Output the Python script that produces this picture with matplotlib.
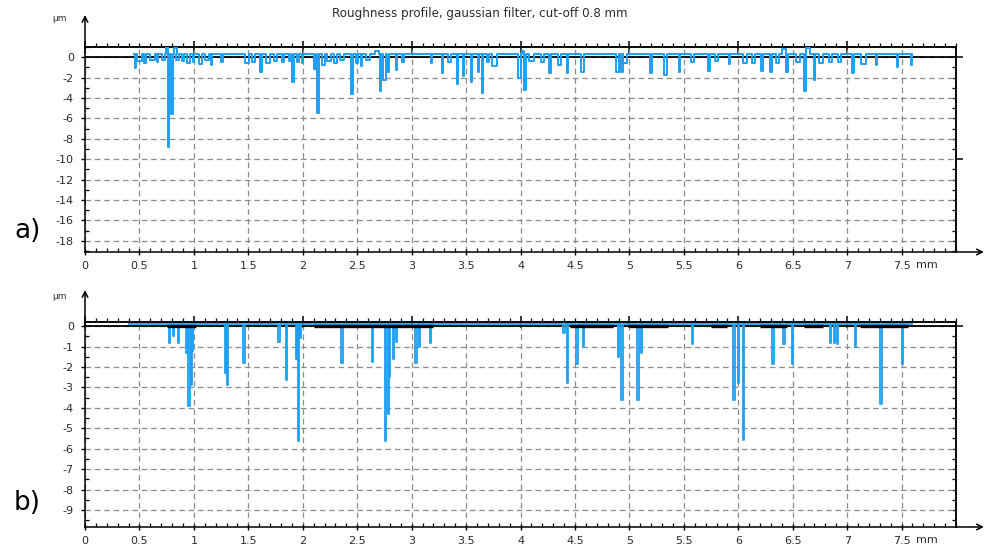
import matplotlib
matplotlib.use("Agg")
import matplotlib.pyplot as plt
from matplotlib.ticker import MultipleLocator, FixedLocator

plt.rcParams["font.family"] = ["DejaVu Sans"]
plt.rcParams["axes.unicode_minus"] = False

# --- profile a): gaussian filtered roughness, pits (negative) and bumps (positive) in µm
a_start, a_end, a_base = 0.45, 7.60, 0.3
a_x = [0.46, 0.50, 0.55, 0.62, 0.67, 0.72, 0.75, 0.77, 0.80, 0.83, 0.85, 0.90, 0.95,
       1.00, 1.06, 1.12, 1.16, 1.26, 1.49, 1.55, 1.62, 1.68, 1.75, 1.82, 1.88, 1.91,
       1.96, 2.00, 2.11, 2.14, 2.19, 2.24, 2.30, 2.36, 2.45, 2.50, 2.54, 2.60, 2.68,
       2.71, 2.75, 2.78, 2.86, 2.92, 3.18, 3.28, 3.35, 3.42, 3.48, 3.55, 3.61, 3.65,
       3.70, 3.76, 3.99, 4.02, 4.04, 4.10, 4.20, 4.27, 4.36, 4.43, 4.57, 4.89, 4.93,
       4.96, 5.20, 5.33, 5.46, 5.58, 5.73, 5.80, 5.92, 6.06, 6.14, 6.22, 6.30, 6.36,
       6.42, 6.45, 6.55, 6.61, 6.64, 6.70, 6.76, 6.85, 6.93, 7.05, 7.15, 7.27, 7.46, 7.59]
a_level = [-1.1, -0.4, -0.6, -0.3, -0.5, -0.3, 1.0, -8.8, -5.6, 0.9, -0.3, -0.4, -0.6,
           -0.5, -0.7, -0.3, -0.8, -0.5, -0.6, -0.5, -1.5, -0.6, -0.4, -0.5, -0.4, -2.4,
           -0.5, -0.6, -1.2, -5.5, -0.8, -0.4, -0.6, -0.3, -3.6, -0.6, -0.9, -0.3, 0.6,
           -3.3, -2.2, -1.5, -1.3, -0.5, -0.6, -1.6, -0.5, -2.6, -1.8, -2.4, -1.5, -3.5,
           -0.5, -0.9, -2.0, 0.6, -3.2, -0.4, -0.5, -1.6, -0.8, -1.6, -1.5, -1.5, -1.5,
           -0.6, -1.6, -1.7, -1.5, -0.5, -1.4, -0.4, -0.7, -0.6, -0.6, -1.4, -1.5, -0.6,
           0.8, -1.5, -0.5, -3.3, 0.9, -2.2, -0.6, -0.5, -0.5, -1.6, -0.7, -0.8, -1.0, -0.8]
a_width = [0.01, 0.04, 0.02, 0.04, 0.01, 0.03, 0.02, 0.012, 0.012, 0.03, 0.02, 0.02, 0.03,
           0.01, 0.02, 0.03, 0.01, 0.02, 0.04, 0.03, 0.02, 0.03, 0.03, 0.02, 0.02, 0.01,
           0.02, 0.01, 0.02, 0.012, 0.02, 0.03, 0.02, 0.03, 0.015, 0.02, 0.01, 0.03, 0.04,
           0.01, 0.03, 0.02, 0.01, 0.02, 0.01, 0.01, 0.03, 0.015, 0.01, 0.01, 0.01, 0.01,
           0.02, 0.04, 0.03, 0.02, 0.015, 0.04, 0.03, 0.02, 0.03, 0.01, 0.02, 0.02, 0.02,
           0.03, 0.02, 0.03, 0.01, 0.02, 0.02, 0.03, 0.01, 0.04, 0.02, 0.02, 0.02, 0.02,
           0.03, 0.02, 0.04, 0.02, 0.03, 0.01, 0.03, 0.03, 0.03, 0.02, 0.04, 0.01, 0.01, 0.01]

# --- profile b)
b_start, b_end, b_base = 0.40, 7.60, 0.1
b_x = [0.78, 0.81, 0.86, 0.94, 0.955, 0.975, 0.99, 1.29, 1.31, 1.46, 1.78, 1.85, 1.94,
       1.96, 1.98, 2.36, 2.64, 2.76, 2.785, 2.80, 2.83, 2.86, 3.04, 3.07, 3.17, 4.40,
       4.43, 4.52, 4.58, 4.90, 4.93, 5.08, 5.11, 5.58, 5.96, 6.00, 6.05, 6.32, 6.42,
       6.50, 6.85, 6.88, 6.91, 7.08, 7.31, 7.51]
b_level = [-0.85, -0.5, -0.85, -1.3, -3.9, -2.9, -1.2, -2.3, -2.9, -1.8, -0.8, -2.65, -1.6,
           -5.6, -0.6, -1.8, -1.75, -5.6, -4.3, -2.5, -1.6, -0.8, -1.8, -1.0, -0.85, -0.35,
           -2.8, -1.85, -1.0, -1.5, -3.6, -3.6, -1.3, -0.9, -3.6, -2.8, -5.55, -1.85, -0.9,
           -1.85, -0.85, -0.85, -0.9, -1.0, -3.8, -1.85]
b_width = [0.01, 0.01, 0.01, 0.02, 0.01, 0.01, 0.01, 0.01, 0.01, 0.015, 0.02, 0.015, 0.01,
           0.015, 0.01, 0.015, 0.01, 0.012, 0.012, 0.01, 0.01, 0.01, 0.012, 0.01, 0.01, 0.02,
           0.01, 0.012, 0.01, 0.015, 0.015, 0.015, 0.01, 0.01, 0.02, 0.01, 0.01, 0.012, 0.01,
           0.012, 0.01, 0.01, 0.015, 0.01, 0.012, 0.01]
# stretches where the profile lies on the reference line
b_dark = [(0.75, 1.02), (2.10, 3.20), (4.45, 4.85), (5.00, 5.35), (5.75, 5.90),
          (6.20, 6.45), (6.60, 6.78), (7.12, 7.56)]

x_labels = ["0", "0.5", "1", "1.5", "2", "2.5", "3", "3.5", "4", "4.5", "5", "5.5",
            "6", "6.5", "7", "7.5"]
a_yticks = [0, -2, -4, -6, -8, -10, -12, -14, -16, -18]
b_yticks = [0, -1, -2, -3, -4, -5, -6, -7, -8, -9]

BLUE = "#1e9ff2"
GRID = "#8c8c8c"
TXT = "#2b2b2b"


def step_profile(start, end, base, xs, levels, widths):
    px, py = [start], [base]
    for x, lv, w in zip(xs, levels, widths):
        px += [x - w / 2, x - w / 2, x + w / 2, x + w / 2]
        py += [base, lv, lv, base]
    px.append(end)
    py.append(base)
    return px, py


def setup_axes(ax, ylim, yticks, yminor):
    ax.set_xlim(0, 8)
    ax.set_ylim(*ylim)
    ax.set_axisbelow(True)
    for s in ax.spines.values():
        s.set_linewidth(1.1)

    ax.set_xticks([i * 0.5 for i in range(16)])
    ax.set_xticklabels(x_labels)
    ax.xaxis.set_minor_locator(MultipleLocator(0.1))
    ax.set_yticks(yticks)
    ax.set_yticklabels([str(t) for t in yticks])
    ax.yaxis.set_minor_locator(MultipleLocator(yminor))
    ax.tick_params(axis="x", which="major", direction="inout", length=5, width=1,
                   pad=4, labelsize=8, labelcolor=TXT)
    ax.tick_params(axis="x", which="minor", direction="in", length=3, width=0.9)
    ax.tick_params(axis="y", which="major", direction="out", length=3, width=1,
                   pad=5, labelsize=8, labelcolor=TXT)
    ax.tick_params(axis="y", which="minor", direction="in", length=3, width=0.9)
    ax.grid(True, which="major", color=GRID, linestyle=(0, (4.5, 3)), linewidth=0.9)

    # ticks along the upper and right frame
    top = ax.secondary_xaxis("top")
    top.xaxis.set_major_locator(FixedLocator(list(range(0, 8))))
    top.xaxis.set_minor_locator(MultipleLocator(0.1))
    top.tick_params(which="major", direction="inout", length=8, width=1.1, labeltop=False)
    top.tick_params(which="minor", direction="out", length=3, width=0.9)
    top.spines["top"].set_linewidth(1.1)

    right = ax.secondary_yaxis("right")
    right.yaxis.set_major_locator(FixedLocator([0, -10]))
    right.yaxis.set_minor_locator(MultipleLocator(yminor))
    right.tick_params(which="major", direction="out", length=5, width=1.1, labelright=False)
    right.tick_params(which="minor", direction="in", length=3, width=0.9)
    right.spines["right"].set_linewidth(1.1)

    ax.axhline(0, color="black", lw=1.3, zorder=2)

    # axis arrows
    ax.annotate("", xy=(0, 1.156), xytext=(0, 1.0), xycoords="axes fraction",
                arrowprops=dict(arrowstyle="->", lw=1.1, color="black",
                                shrinkA=0, shrinkB=0), annotation_clip=False)
    ax.annotate("", xy=(1.032, 0), xytext=(1.0, 0), xycoords="axes fraction",
                arrowprops=dict(arrowstyle="->", lw=1.1, color="black",
                                shrinkA=0, shrinkB=0), annotation_clip=False)
    ax.text(7.63, -0.041, "mm", transform=ax.get_xaxis_transform(), fontsize=8,
            color=TXT, ha="left", va="top")


fig = plt.figure(figsize=(9.85, 5.52), dpi=100)

ax_a = fig.add_axes([0.0863, 0.5435, 0.8843, 0.3714])
setup_axes(ax_a, (-19.1, 1.0), a_yticks, 1)
xa, ya = step_profile(a_start, a_end, a_base, a_x, a_level, a_width)
ax_a.plot(xa, ya, color=BLUE, lw=1.4, zorder=3)
ax_a.text(-0.029, 1.137, "µm", transform=ax_a.transAxes, fontsize=6.5, color=TXT,
          ha="center", va="center")

ax_b = fig.add_axes([0.0863, 0.0453, 0.8843, 0.3714])
setup_axes(ax_b, (-9.83, 0.2), b_yticks, 0.5)
xb, yb = step_profile(b_start, b_end, b_base, b_x, b_level, b_width)
ax_b.plot(xb, yb, color=BLUE, lw=1.3, zorder=3)
for x0, x1 in b_dark:
    ax_b.plot([x0, x1], [0, 0], color="black", lw=2.4, solid_capstyle="butt", zorder=4)
ax_b.text(-0.029, 1.122, "µm", transform=ax_b.transAxes, fontsize=6.5, color=TXT,
          ha="center", va="center")

fig.text(0.487, 0.975, "Roughness profile, gaussian filter, cut-off 0.8 mm",
         fontsize=8.6, color=TXT, ha="center", va="center")
fig.text(0.028, 0.582, "a)", fontsize=19, ha="center", va="center")
fig.text(0.028, 0.089, "b)", fontsize=19, ha="center", va="center")

fig.savefig("out.png", dpi=100)
